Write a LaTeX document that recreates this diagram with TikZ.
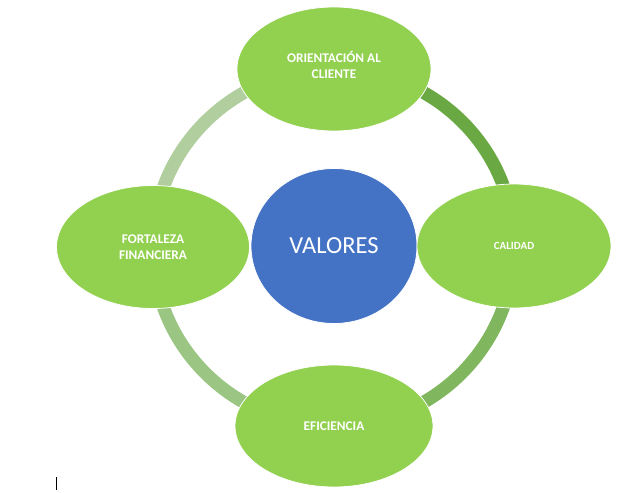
\documentclass[tikz,border=0pt]{standalone}
\usepackage{fontspec}
\setmainfont{Carlito}
\usetikzlibrary{shapes.geometric,backgrounds}
\definecolor{leafgreen}{RGB}{146,208,80}
\definecolor{hubblue}{RGB}{68,114,196}
\definecolor{ringA}{RGB}{106,168,68}
\definecolor{ringB}{RGB}{127,182,94}
\definecolor{ringC}{RGB}{155,197,130}
\definecolor{ringD}{RGB}{177,207,158}
\tikzset{
  leaftext/.style={text=white, font=\bfseries\fontsize{13.3}{15.5}\selectfont, align=center},
  leaf/.style={ellipse, fill=leafgreen, draw=white, line width=0.8pt,
    minimum width=194pt, minimum height=124pt, inner sep=0pt, leaftext},
  hub/.style={ellipse, fill=hubblue, draw=white, line width=0.8pt,
    minimum width=166pt, minimum height=155pt, inner sep=0pt,
    text=white, font=\fontsize{24.5}{28}\selectfont},
  ringarc/.style={line width=13pt}
}
\begin{document}
\begin{tikzpicture}[x=1pt,y=-1pt]
  \useasboundingbox (0,0) rectangle (623,492);
  % central value and the four surrounding ones
  \node[hub] (valores) at (334,246) {VALORES};
  \node[leaf] (orient) at (334,69) {};
  \node[leaftext, font=\bfseries\fontsize{13.3}{16}\selectfont] (orientText) at (334,65) {ORIENTACIÓN AL\\CLIENTE};
  \node[leaf, font=\bfseries\fontsize{11}{13}\selectfont] (calidad) at (514,246) {CALIDAD};
  \node[leaf, minimum width=198pt, minimum height=122pt] (eficiencia) at (334,426) {EFICIENCIA};
  \node[leaf, minimum width=193pt, minimum height=123pt] (fortaleza) at (153,247) {FORTALEZA\\FINANCIERA};
  % ring joining the values
  \begin{pgfonlayer}{background}
    \draw[ringarc, ringA] (orient.center) to[out=0,in=90] (calidad.center);
    \draw[ringarc, ringB] (calidad.center) to[out=-90,in=0] (eficiencia.center);
    \draw[ringarc, ringC] (eficiencia.center) to[out=180,in=-90] (fortaleza.center);
    \draw[ringarc, ringD] (fortaleza.center) to[out=90,in=180] (orient.center);
  \end{pgfonlayer}
  % text cursor mark
  \draw[black, line width=1pt] (56.5,477) -- (56.5,490);
\end{tikzpicture}
\end{document}
